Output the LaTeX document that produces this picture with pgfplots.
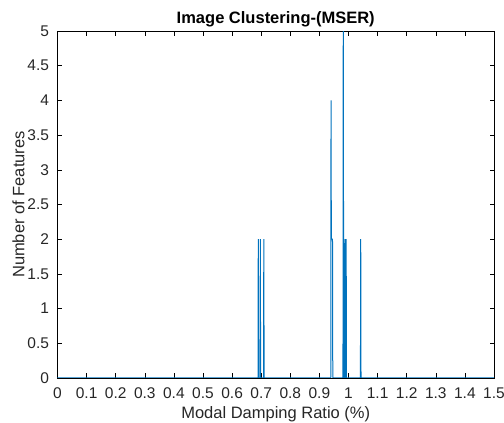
\documentclass[border=0pt]{standalone}
\usepackage{pgfplots}
\pgfplotsset{compat=1.18}
\usepackage{fontspec}
\setmainfont{Liberation Sans}
\definecolor{mblue}{rgb}{0,0.447,0.741}
\begin{document}
\begin{tikzpicture}[x=1pt,y=1pt]
\useasboundingbox (0,0) rectangle (504,423);
\begin{axis}[
  at={(57.5pt,45pt)}, anchor=south west,
  scale only axis, width=436.5pt, height=347pt,
  xmin=0, xmax=1.5, ymin=0, ymax=5,
  xtick={0,0.1,...,1.5},
  ytick={0,0.5,...,5},
  xticklabels={0,0.1,0.2,0.3,0.4,0.5,0.6,0.7,0.8,0.9,1,1.1,1.2,1.3,1.4,1.5},
  yticklabels={0,0.5,1,1.5,2,2.5,3,3.5,4,4.5,5},
  tick align=inside, major tick length=4.5pt,
  tick style={black, line width=0.5pt},
  axis line style={black, line width=0.5pt},
  tick label style={font=\fontsize{15.5}{17}\selectfont, text=black!85},
  xticklabel style={yshift=-6pt},
  yticklabel style={xshift=-5pt},
  label style={font=\fontsize{16.5}{18}\selectfont, text=black!85},
  title style={font=\bfseries\fontsize{16.5}{18}\selectfont, yshift=-6pt},
  title={Image Clustering-(MSER)},
  xlabel={Modal Damping Ratio (\%)},
  ylabel={Number of Features},
  xlabel style={yshift=-1pt},
  ylabel style={yshift=-4pt},
  /pgf/number format/assume math mode=true,
]
\addplot[mblue, line width=1pt, line join=miter] coordinates {
(0,0) (0.689,0) (0.690,2) (0.691,0) (0.696,0) (0.697,2) (0.698,0)
(0.708,0) (0.709,2) (0.710,0)
(0.939,0) (0.940,4) (0.941,2) (0.945,2) (0.946,0)
(0.981,0) (0.982,5) (0.983,2) (0.984,0) (0.987,0) (0.988,2) (0.989,0)
(0.991,0) (0.992,2) (0.993,0)
(1.041,0) (1.042,2) (1.043,0) (1.5,0)
};
\end{axis}
\end{tikzpicture}
\end{document}
